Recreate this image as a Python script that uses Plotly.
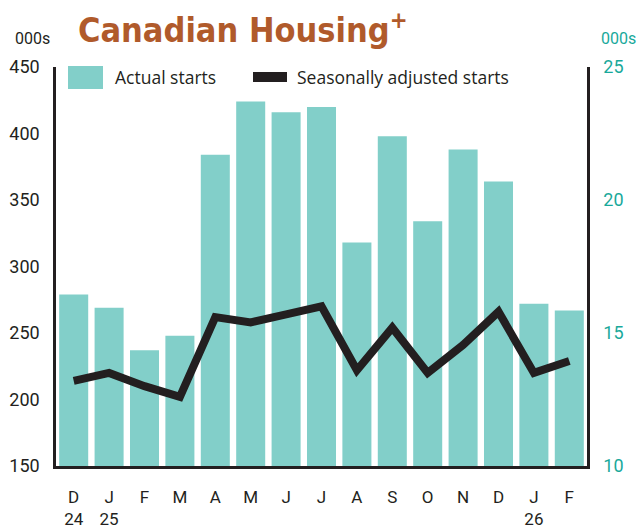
import plotly.graph_objects as go

months = ["D", "J", "F", "M", "A", "M", "J", "J", "A", "S", "O", "N", "D", "J", "F"]
tick_labels = ["D<br>24", "J<br>25", "F", "M", "A", "M", "J", "J", "A", "S", "O", "N", "D", "J<br>26", "F"]
actual_starts = [279, 269, 237, 248, 384, 424, 416, 420, 318, 398, 334, 388, 364, 272, 267]
sa_starts = [13.2, 13.5, 13.0, 12.6, 15.6, 15.4, 15.7, 16.0, 13.6, 15.2, 13.5, 14.55, 15.8, 13.5, 13.95]
left_ticks = [150, 200, 250, 300, 350, 400, 450]
right_ticks = [10, 15, 20, 25]

TEAL = "#82cfc9"
TEAL_TEXT = "#19a99b"
DARK = "#231f20"
BROWN = "#b05a2b"
FONT = "Roboto, DejaVu Sans, sans-serif"
LEG_FONT = "Open Sans, Roboto, sans-serif"

x = list(range(len(months)))

fig = go.Figure()
fig.add_trace(go.Bar(x=x, y=actual_starts, marker=dict(color=TEAL, line=dict(width=0)),
                     name="Actual starts", showlegend=False))
fig.add_trace(go.Scatter(x=x, y=sa_starts, yaxis="y2", mode="lines",
                         line=dict(color=DARK, width=8, shape="linear"),
                         name="Seasonally adjusted starts", showlegend=False))

L, R, T, B = 56, 53, 67, 63
W, H = 640, 529
pw, ph = W - L - R, H - T - B

def px(xp):
    return (xp - L) / pw

def py(yp):
    return (H - B - yp) / ph

fig.update_layout(
    width=W, height=H,
    margin=dict(l=L, r=R, t=T, b=B, autoexpand=False),
    paper_bgcolor="white", plot_bgcolor="white",
    bargap=0.18,
    font=dict(family=FONT, color=DARK, size=17),
    xaxis=dict(range=[-0.5, 14.5], tickvals=x, ticktext=tick_labels, showgrid=False,
               zeroline=False, showline=True, linecolor=DARK, linewidth=2.5, ticks="",
               tickfont=dict(size=17, color=DARK), ticklabelstandoff=14, automargin=False),
    yaxis=dict(range=[150, 450], tickvals=left_ticks, showgrid=False, zeroline=False,
               showline=True, linecolor=DARK, linewidth=2.5, ticks="",
               tickfont=dict(size=18, color=DARK), ticklabelstandoff=10, automargin=False),
    yaxis2=dict(range=[10, 25], tickvals=right_ticks, overlaying="y", side="right",
                showgrid=False, zeroline=False, showline=True, linecolor=DARK, linewidth=2.5,
                ticks="", tickfont=dict(size=18, color=TEAL_TEXT), ticklabelstandoff=10,
                automargin=False),
    showlegend=False,
)

# custom legend
fig.add_shape(type="rect", xref="paper", yref="paper", x0=px(68), x1=px(103), y0=py(89), y1=py(66),
              fillcolor=TEAL, line=dict(width=0), layer="above")
fig.add_shape(type="rect", xref="paper", yref="paper", x0=px(253), x1=px(287), y0=py(82), y1=py(72),
              fillcolor=DARK, line=dict(width=0), layer="above")
fig.add_annotation(xref="paper", yref="paper", x=px(113), y=py(77), xanchor="left", yanchor="middle",
                   text="Actual starts", showarrow=False, font=dict(size=17.5, color=DARK, family=LEG_FONT))
fig.add_annotation(xref="paper", yref="paper", x=px(295), y=py(77), xanchor="left", yanchor="middle",
                   text="Seasonally adjusted starts", showarrow=False,
                   font=dict(size=17.5, color=DARK, family=LEG_FONT))

# units
fig.add_annotation(xref="paper", yref="paper", x=px(13), y=py(38), xanchor="left", yanchor="middle",
                   text="000s", showarrow=False, font=dict(size=16, color=DARK, family=FONT))
fig.add_annotation(xref="paper", yref="paper", x=px(638), y=py(38), xanchor="right", yanchor="middle",
                   text="000s", showarrow=False, font=dict(size=16, color=TEAL_TEXT, family=FONT))

# title
fig.add_annotation(xref="paper", yref="paper", x=px(76), y=py(28), xanchor="left", yanchor="middle",
                   text="<b>Canadian Housing<sup>+</sup></b>", showarrow=False,
                   font=dict(size=34, color=BROWN,
                             family="DejaVu Sans Condensed, Liberation Sans Narrow, Arial Narrow, sans-serif"))

fig.write_html("out.html", config={"displayModeBar": False},
               post_script="document.body.style.margin='0';document.body.style.overflow='hidden';")
